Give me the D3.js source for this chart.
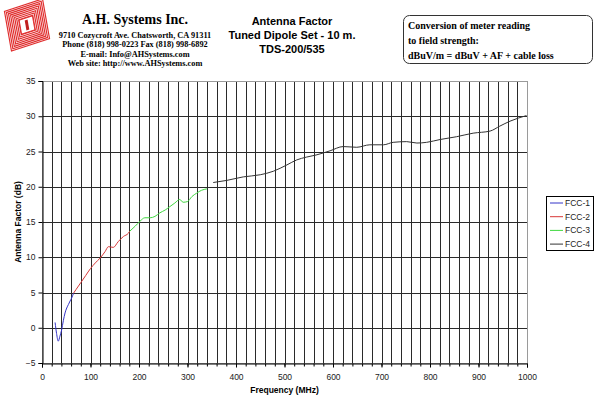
<!DOCTYPE html>
<html>
<head>
<meta charset="utf-8">
<script src="https://cdn.jsdelivr.net/npm/d3@7"></script>
<style>
  body { margin: 0; background: #fff; }
  svg { display: block; }
</style>
</head>
<body>
<div id="chart"></div>
<script>
// Antenna factor (MHz, dB)
const fcc1 = [[27, 0.75], [30, -0.8], [33.5, -1.9], [37, -1.2], [40.5, -0.3], [44, 1.0], [47.5, 2.1], [51, 2.8], [54.5, 3.3], [58, 3.8], [61, 4.2], [65, 4.9]];
const fcc2 = [[65, 4.9], [70, 5.4], [80, 6.4], [90, 7.4], [100, 8.4], [110, 9.2], [120, 9.9], [130, 10.8], [137, 11.5], [147, 11.4], [157, 12.2], [168, 12.95], [178, 13.4], [181, 13.7]];
const fcc3 = [[181, 13.7], [192, 14.4], [202, 15.1], [212, 15.6], [223, 15.6], [233, 15.8], [243, 16.3], [254, 16.7], [264, 17.2], [274, 17.7], [284, 18.2], [291, 17.8], [300, 17.9], [309, 18.6], [319, 19.1], [329, 19.5], [340, 19.7]];
const fcc4 = [[353, 20.6], [381, 20.9], [415, 21.4], [450, 21.7], [477, 22.2], [505, 23.1], [525, 23.8], [545, 24.2], [565, 24.5], [594, 25.1], [621, 25.7], [649, 25.6], [676, 25.95], [704, 25.95], [724, 26.3], [752, 26.4], [773, 26.2], [793, 26.3], [821, 26.7], [855, 27.1], [889, 27.6], [924, 27.9], [944, 28.6], [965, 29.3], [999, 30.1]];

const seriesNames = ["FCC-1", "FCC-2", "FCC-3", "FCC-4"];
const seriesColors = ["#3535c8", "#d83838", "#40d840", "#333333"];
const xTicks = d3.range(0, 1001, 100);
const yTicks = d3.range(-5, 36, 5);

const width = 600, height = 410;
const plot = {left: 42, right: 527, top: 81, bottom: 363};

const svg = d3.select('#chart').append('svg')
  .attr('width', width).attr('height', height);

const x = d3.scaleLinear().domain([0, 1000]).range([plot.left, plot.right]);
const y = d3.scaleLinear().domain([-5, 35]).range([plot.bottom, plot.top]);

// gridlines
const grid = svg.append('g');
grid.selectAll('.vgrid')
  .data(d3.range(20, 1000, 20))
  .enter().append('line')
  .attr('x1', d => Math.round(x(d)) + 0.5).attr('x2', d => Math.round(x(d)) + 0.5)
  .attr('y1', plot.top).attr('y2', plot.bottom)
  .style('stroke', '#2a2a2a').style('stroke-width', 1);
grid.selectAll('.hgrid')
  .data(yTicks.slice(1, -1))
  .enter().append('line')
  .attr('x1', plot.left).attr('x2', plot.right)
  .attr('y1', d => Math.round(y(d)) + 0.5).attr('y2', d => Math.round(y(d)) + 0.5)
  .style('stroke', '#2a2a2a').style('stroke-width', 1);

// plot border (gray)
svg.append('rect')
  .attr('x', plot.left + 0.5).attr('y', plot.top + 0.5)
  .attr('width', plot.right - plot.left).attr('height', plot.bottom - plot.top)
  .style('fill', 'none').style('stroke', '#9a9a9a');

// axes
const fontAxis = 'Arial, "Liberation Sans", sans-serif';
const xAxis = d3.axisBottom(x).tickValues(xTicks).tickSize(4).tickFormat(d3.format('d'));
const gx = svg.append('g').attr('transform', 'translate(0,' + (plot.bottom + 0.5) + ')').call(xAxis);
svg.append('g').attr('transform', 'translate(0,' + (plot.bottom + 0.5) + ')')
  .call(d3.axisBottom(x).tickValues(d3.range(20, 1000, 20)).tickSize(3).tickFormat(''))
  .call(g => g.select('.domain').remove());
const yAxis = d3.axisLeft(y).tickValues(yTicks).tickSize(4);
const gy = svg.append('g').attr('transform', 'translate(' + (plot.left + 0.5) + ',0)').call(yAxis);
svg.selectAll('.tick line').style('stroke', '#000');
svg.selectAll('.domain').style('stroke', '#000');
[gx, gy].forEach(g => g.selectAll('text')
  .style('font-family', fontAxis).style('font-size', '8.5px').style('fill', '#222'));
gx.selectAll('text').attr('dy', '1.1em');

// axis titles
svg.append('text')
  .attr('x', (plot.left + plot.right) / 2).attr('y', 393)
  .attr('text-anchor', 'middle')
  .style('font-family', fontAxis).style('font-size', '8.5px').style('font-weight', 'bold')
  .text('Frequency (MHz)');
svg.append('text')
  .attr('transform', 'translate(21,' + ((plot.top + plot.bottom) / 2) + ') rotate(-90)')
  .attr('text-anchor', 'middle')
  .style('font-family', fontAxis).style('font-size', '8.5px').style('font-weight', 'bold')
  .text('Antenna Factor (dB)');

// curves
const line = d3.line().x(d => x(d[0])).y(d => y(d[1])).curve(d3.curveMonotoneX);
[fcc1, fcc2, fcc3, fcc4].forEach((s, i) => {
  svg.append('path')
    .attr('d', line(s))
    .style('fill', 'none')
    .style('stroke', seriesColors[i])
    .style('stroke-width', 1);
});

// legend
const leg = svg.append('g').attr('transform', 'translate(546,196)');
leg.append('rect').attr('x', 0.5).attr('y', 0.5).attr('width', 47).attr('height', 54)
  .style('fill', '#fff').style('stroke', '#000');
seriesNames.forEach((n, i) => {
  const ly = 7 + i * 13.7;
  leg.append('line').attr('x1', 4).attr('x2', 17).attr('y1', ly).attr('y2', ly)
    .style('stroke', seriesColors[i]);
  leg.append('text').attr('x', 19).attr('y', ly + 3)
    .style('font-family', fontAxis).style('font-size', '8.5px').style('fill', '#222')
    .text(n);
});

// title
const title = ['Antenna Factor', 'Tuned Dipole Set - 10 m.', 'TDS-200/535'];
svg.append('g').selectAll('text').data(title).enter().append('text')
  .attr('x', 292).attr('y', (d, i) => 25 + i * 14)
  .attr('text-anchor', 'middle')
  .style('font-family', fontAxis).style('font-size', '11px').style('font-weight', 'bold')
  .text(d => d);

// company block
const serif = '"Times New Roman", "Liberation Serif", "DejaVu Serif", serif';
svg.append('text').attr('x', 135).attr('y', 24).attr('text-anchor', 'middle')
  .style('font-family', serif).style('font-size', '14px').style('font-weight', 'bold')
  .text('A.H. Systems Inc.');
const info = ['9710 Cozycroft Ave. Chatsworth, CA 91311', 'Phone (818) 998-0223 Fax (818) 998-6892',
  'E-mail: Info@AHSystems.com', 'Web site: http://www.AHSystems.com'];
svg.append('g').selectAll('text').data(info).enter().append('text')
  .attr('x', 135).attr('y', (d, i) => 38 + i * 9.3)
  .attr('text-anchor', 'middle')
  .style('font-family', serif).style('font-size', '8.3px').style('font-weight', 'bold')
  .text(d => d);

// logo: red striped square
const logo = svg.append('g').attr('transform', 'translate(27,25) rotate(-18) skewX(-8)');
d3.range(0, 10).forEach(k => {
  const s = 40 - k * 3.6;
  logo.append('rect').attr('x', -s / 2).attr('y', -s / 2).attr('width', s).attr('height', s)
    .style('fill', 'none').style('stroke', '#e03030').style('stroke-width', 1.2);
});
logo.append('rect').attr('x', -7).attr('y', -7).attr('width', 14).attr('height', 14)
  .style('fill', '#fff').style('stroke', '#e03030');
logo.append('rect').attr('x', -1.5).attr('y', -5).attr('width', 3).attr('height', 10)
  .style('fill', '#c02020');

// conversion note box
svg.append('rect').attr('x', 403.5).attr('y', 15.5).attr('width', 189).attr('height', 48)
  .attr('rx', 6).style('fill', '#fff').style('stroke', '#333');
const note = ['Conversion of meter reading', 'to field strength:', 'dBuV/m = dBuV + AF + cable loss'];
svg.append('g').selectAll('text').data(note).enter().append('text')
  .attr('x', 408).attr('y', (d, i) => 29 + i * 15)
  .style('font-family', serif).style('font-size', '10px').style('font-weight', 'bold')
  .text(d => d);
</script>
</body>
</html>
